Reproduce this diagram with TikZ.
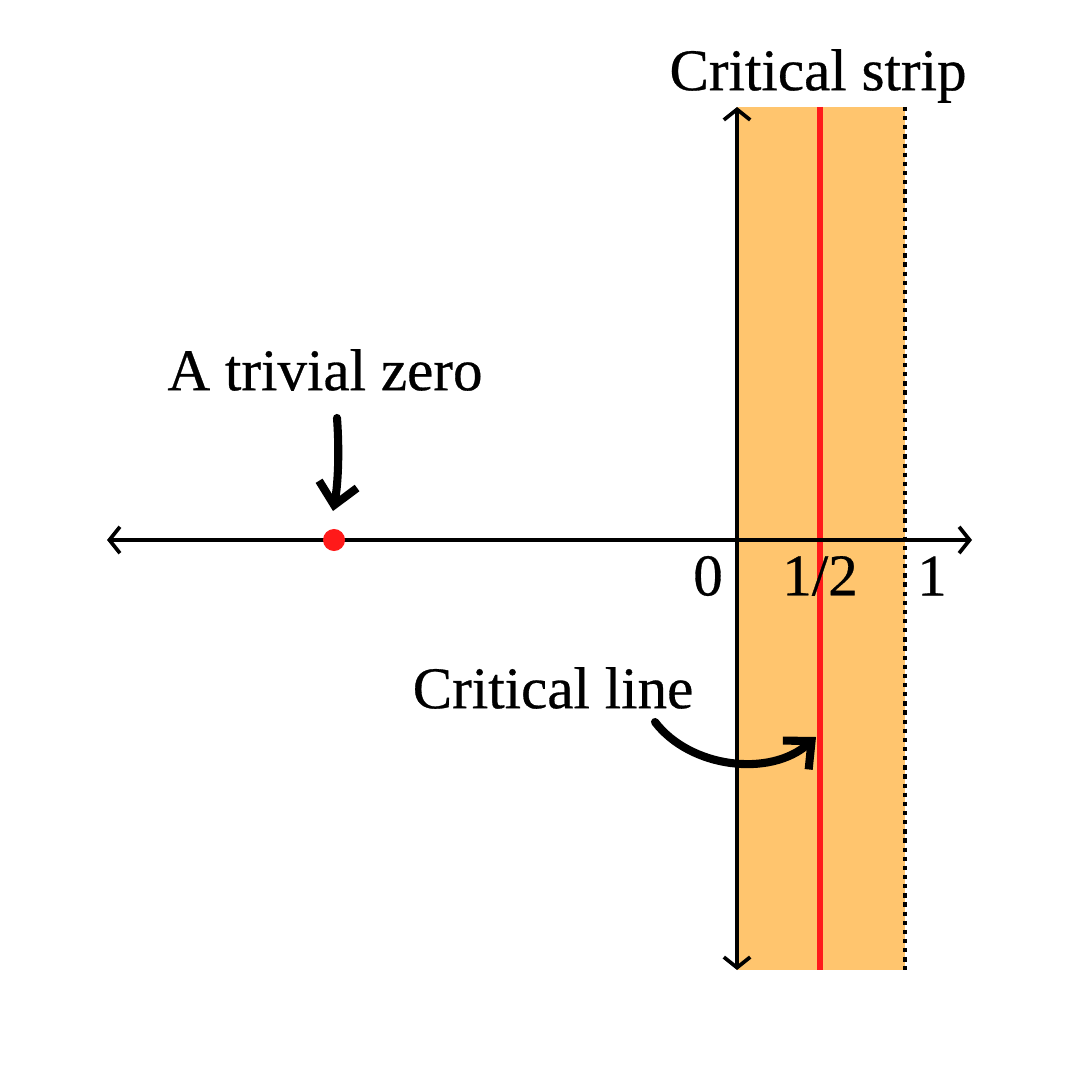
\documentclass[tikz,border=0pt]{standalone}
\usepackage{fontspec}
\setmainfont{Liberation Serif}
\newfontfamily\lblfont{Liberation Serif}[FakeBold=0.5]
\usetikzlibrary{arrows.meta}
\definecolor{strip}{HTML}{FFC56E}
\definecolor{critred}{HTML}{FF1A1A}
\tikzset{
  axis/.style={line width=1.05pt, {Straight Barb[length=3pt,width=7.5pt,line width=1.05pt]}-{Straight Barb[length=3pt,width=7.5pt,line width=1.05pt]}},
  handarrow/.style={line width=2.3pt, line cap=round, -{Straight Barb[length=6pt,width=11pt,line width=2.3pt]}},
  lbl/.style={font=\lblfont\fontsize{16.8}{20}\selectfont, inner sep=0pt},
}
\begin{document}
\begin{tikzpicture}[x=0.01cm,y=-0.01cm]
\useasboundingbox (0,0) rectangle (1080,1080);
% strip
\fill[strip] (737,107) rectangle (905,970);
\coordinate (top) at (737,107);
\coordinate (bot) at (737,970);
\coordinate (left) at (107,540);
\coordinate (right) at (972,540);
\coordinate (rt) at (820,107);
\coordinate (rb) at (820,970);
\coordinate (dt) at (905,107);
\coordinate (db) at (905,970);
\draw[critred, line width=1.6pt] (rt) -- (rb);
\draw[line width=1.2pt, dash pattern=on 1.2pt off 1.4pt] (dt) -- (db);
\draw[axis] (left) -- (right);
\draw[axis] (bot) -- (top);
\node[circle, fill=critred, inner sep=0pt, minimum size=0.22cm] (zero) at (334,540) {};
% labels
\node[lbl] (l0) at (708,576) {0};
\node[lbl] (lhalf) at (820,576) {1/2};
\node[lbl] (l1) at (932,576) {1};
\node[lbl] (strip) at (818,76) {Critical strip};
\node[lbl] (triv) at (325,370) {A trivial zero};
\node[lbl] (cline) at (553,688) {Critical line};
\coordinate (a1s) at (337,418);
\coordinate (a1e) at (333,511);
\coordinate (a2s) at (655,722);
\coordinate (a2e) at (816,737);
\draw[handarrow] (a1s) .. controls (340,460) and (337,490) .. (a1e);
\draw[handarrow] (a2s) .. controls (690,768) and (770,778) .. (a2e);
\end{tikzpicture}
\end{document}
